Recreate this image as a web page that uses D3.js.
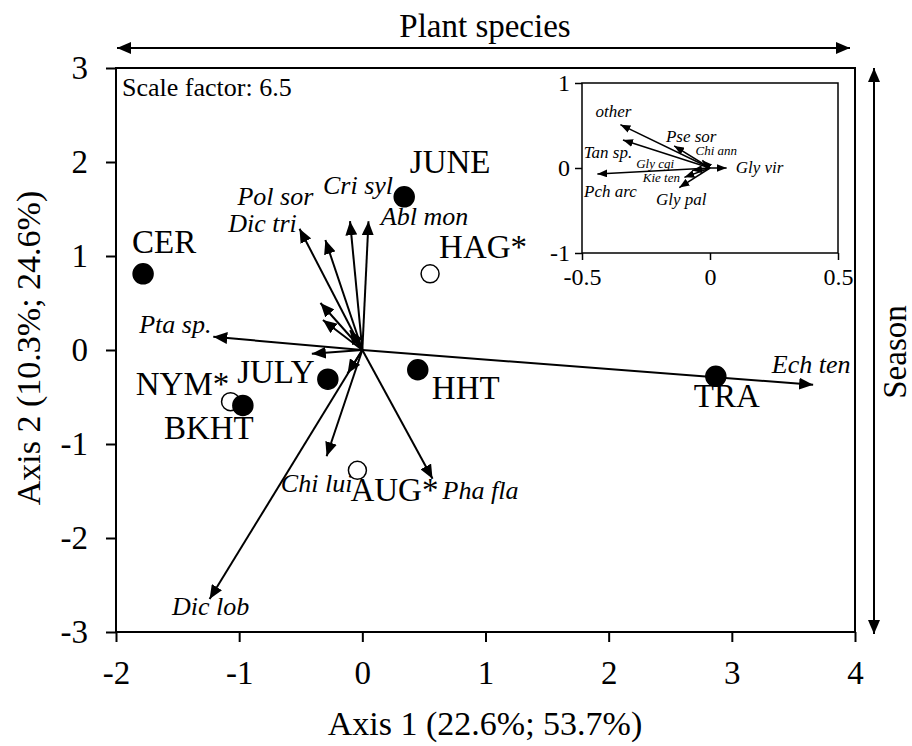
<!DOCTYPE html>
<html>
<head>
<meta charset="utf-8">
<script src="https://cdn.jsdelivr.net/npm/d3@7"></script>
<style>
body { margin: 0; background: #fff; }
svg text { font-family: "Liberation Serif", "Times New Roman", serif; fill: #000; }
</style>
</head>
<body>
<svg id="chart" width="912" height="746"></svg>
<script>
// sites / months (sample scores)
var siteNames = ["JUNE", "HAG*", "CER", "JULY", "HHT", "NYM*", "BKHT", "TRA", "AUG*"];
var siteX = [0.34, 0.55, -1.78, -0.28, 0.45, -1.07, -0.97, 2.87, -0.04];
var siteY = [1.63, 0.81, 0.81, -0.31, -0.21, -0.55, -0.59, -0.28, -1.28];

// plant species vectors (main plot), unlabeled ones have ""
var spNames = ["Ech ten", "Pta sp.", "Dic lob", "Chi lui", "Pha fla", "Dic tri", "Pol sor", "Cri syl", "Abl mon", "", "", "", "", ""];
var spX = [3.66, -1.21, -1.24, -0.29, 0.57, -0.51, -0.30, -0.10, 0.05, -0.34, -0.32, -0.41, -0.12, -0.10];
var spY = [-0.37, 0.14, -2.65, -1.13, -1.37, 1.29, 1.17, 1.37, 1.37, 0.50, 0.32, -0.04, -0.25, 0.21];

// inset: species with short vectors
var inNames = ["other", "Tan sp.", "Pse sor", "Chi ann", "Gly vir", "Pch arc", "Gly cgi", "Kie ten", "Gly pal"];
var inX = [-0.35, -0.34, -0.14, -0.03, 0.065, -0.44, -0.07, -0.10, -0.12];
var inY = [0.51, 0.33, 0.26, 0.09, 0.0, -0.07, -0.03, -0.11, -0.23];

var xTicks = [-2, -1, 0, 1, 2, 3, 4];
var yTicks = [-3, -2, -1, 0, 1, 2, 3];
var inXTicks = [-0.5, 0, 0.5];
var inYTicks = [-1, 0, 1];

// label nudges in px from the mark (middle anchored)
var siteNudge = {"JUNE": [46, -24], "HAG*": [53, -16], "CER": [21, -21], "JULY": [-52, 4], "HHT": [48, 29],
  "NYM*": [-48, -7], "BKHT": [-34, 34], "TRA": [11, 31], "AUG*": [37, 31]};
var spNudge = {"Ech ten": [-2, -12], "Pta sp.": [-38, -4], "Dic lob": [1, 16], "Chi lui": [-10, 36],
  "Pha fla": [48, 20], "Dic tri": [-37, 3], "Pol sor": [-50, -35], "Cri syl": [8, -27], "Abl mon": [56, 4]};
var inNudge = {"other": [-7, -8], "Tan sp.": [-15, 18], "Pse sor": [17, -4], "Chi ann": [14, -5], "Gly vir": [33, 5],
  "Pch arc": [13, 23], "Gly cgi": [-37, -3], "Kie ten": [-23, 5], "Gly pal": [2, 17]};
var smallInset = ["Chi ann", "Gly cgi", "Kie ten"];

var svg = d3.select('#chart');

var x = d3.scaleLinear().domain([-2, 4]).range([116, 855]);
var y = d3.scaleLinear().domain([-3, 3]).range([632, 68]);

var defs = svg.append('defs');
function marker(id, len, wid) {
	defs.append('marker')
		.attr('id', id)
		.attr('markerUnits', 'userSpaceOnUse')
		.attr('viewBox', '0 0 ' + len + ' ' + wid)
		.attr('refX', len).attr('refY', wid / 2)
		.attr('markerWidth', len).attr('markerHeight', wid)
		.attr('orient', 'auto-start-reverse')
		.append('path')
			.attr('d', 'M0,0L' + len + ',' + (wid / 2) + 'L0,' + wid + 'Z')
			.attr('fill', '#000');
}
marker('head', 14, 12);
marker('headS', 10, 8);

// frame
svg.append('rect')
	.attr('x', x(-2)).attr('y', y(3))
	.attr('width', x(4) - x(-2)).attr('height', y(-3) - y(3))
	.attr('fill', 'none').attr('stroke', '#000').attr('stroke-width', 2);

var yAxis = svg.append('g')
	.attr('transform', 'translate(' + x(-2) + ',0)')
	.call(d3.axisLeft(y).tickValues(yTicks).tickSize(10).tickPadding(18).tickFormat(d3.format('d')));
var xAxis = svg.append('g')
	.attr('transform', 'translate(0,' + y(-3) + ')')
	.call(d3.axisBottom(x).tickValues(xTicks).tickSize(10).tickPadding(19).tickFormat(d3.format('d')));
[xAxis, yAxis].forEach(function (a) {
	a.select('.domain').remove();
	a.selectAll('line').attr('stroke-width', 2);
	a.selectAll('text').style('font-size', '33px').attr('font-family', null);
});
// plain hyphen minus like the original
svg.selectAll('.tick text').text(function (d) { return String(d); });

// species vectors
var sp = spNames.map(function (n, i) { return {name: n, x: spX[i], y: spY[i]}; });
svg.append('g').selectAll('line').data(sp).enter().append('line')
	.attr('x1', x(0)).attr('y1', y(0))
	.attr('x2', function (d) { return x(d.x); })
	.attr('y2', function (d) { return y(d.y); })
	.attr('stroke', '#000').attr('stroke-width', 2)
	.attr('marker-end', 'url(#head)');
svg.append('g').selectAll('text').data(sp.filter(function (d) { return d.name; })).enter().append('text')
	.attr('x', function (d) { return x(d.x) + spNudge[d.name][0]; })
	.attr('y', function (d) { return y(d.y) + spNudge[d.name][1]; })
	.attr('text-anchor', 'middle')
	.style('font-size', '26px').style('font-style', 'italic')
	.text(function (d) { return d.name; });

// sites: names with * are open circles
var sites = siteNames.map(function (n, i) { return {name: n, x: siteX[i], y: siteY[i], open: n.indexOf('*') >= 0}; });
sites.sort(function (a, b) { return (b.open ? 1 : 0) - (a.open ? 1 : 0); });
svg.append('g').selectAll('circle').data(sites).enter().append('circle')
	.attr('cx', function (d) { return x(d.x); })
	.attr('cy', function (d) { return y(d.y); })
	.attr('r', function (d) { return d.open ? 9 : 10; })
	.attr('fill', function (d) { return d.open ? '#fff' : '#000'; })
	.attr('stroke', '#000').attr('stroke-width', 1.5);
svg.append('g').selectAll('text').data(sites).enter().append('text')
	.attr('x', function (d) { return x(d.x) + siteNudge[d.name][0]; })
	.attr('y', function (d) { return y(d.y) + siteNudge[d.name][1]; })
	.attr('text-anchor', 'middle')
	.style('font-size', '33px')
	.text(function (d) { return d.name; });

svg.append('text').attr('x', 122).attr('y', 96).style('font-size', '26px').text('Scale factor: 6.5');

// inset
var ix = d3.scaleLinear().domain([-0.5, 0.5]).range([582, 838]);
var iy = d3.scaleLinear().domain([-1, 1]).range([253, 83]);
svg.append('rect')
	.attr('x', ix(-0.5)).attr('y', iy(1))
	.attr('width', ix(0.5) - ix(-0.5)).attr('height', iy(-1) - iy(1))
	.attr('fill', '#fff').attr('stroke', '#000').attr('stroke-width', 1.5);
var iyAxis = svg.append('g')
	.attr('transform', 'translate(' + ix(-0.5) + ',0)')
	.call(d3.axisLeft(iy).tickValues(inYTicks).tickSize(7).tickPadding(5).tickFormat(function (d) { return String(d); }));
var ixAxis = svg.append('g')
	.attr('transform', 'translate(0,' + iy(-1) + ')')
	.call(d3.axisBottom(ix).tickValues(inXTicks).tickSize(7).tickPadding(8).tickFormat(function (d) { return String(d); }));
[ixAxis, iyAxis].forEach(function (a) {
	a.select('.domain').remove();
	a.selectAll('line').attr('stroke-width', 1.5);
	a.selectAll('text').style('font-size', '24px').attr('font-family', null);
});

var ins = inNames.map(function (n, i) { return {name: n, x: inX[i], y: inY[i]}; });
svg.append('g').selectAll('line').data(ins).enter().append('line')
	.attr('x1', ix(0)).attr('y1', iy(0))
	.attr('x2', function (d) { return ix(d.x); })
	.attr('y2', function (d) { return iy(d.y); })
	.attr('stroke', '#000').attr('stroke-width', 1.5)
	.attr('marker-end', 'url(#headS)');
svg.append('g').selectAll('text').data(ins).enter().append('text')
	.attr('x', function (d) { return ix(d.x) + inNudge[d.name][0]; })
	.attr('y', function (d) { return iy(d.y) + inNudge[d.name][1]; })
	.attr('text-anchor', 'middle')
	.style('font-size', function (d) { return smallInset.indexOf(d.name) >= 0 ? '13px' : '17px'; })
	.style('font-style', 'italic')
	.text(function (d) { return d.name; });

// side double arrows
svg.append('line')
	.attr('x1', 117).attr('x2', 850).attr('y1', 48).attr('y2', 48)
	.attr('stroke', '#000').attr('stroke-width', 2)
	.attr('marker-start', 'url(#head)').attr('marker-end', 'url(#head)');
svg.append('text').attr('x', 485).attr('y', 37).attr('text-anchor', 'middle')
	.style('font-size', '33px').text('Plant species');

svg.append('line')
	.attr('x1', 874).attr('x2', 874).attr('y1', 68).attr('y2', 634)
	.attr('stroke', '#000').attr('stroke-width', 2)
	.attr('marker-start', 'url(#head)').attr('marker-end', 'url(#head)');
svg.append('text').attr('transform', 'translate(906,352) rotate(-90)').attr('text-anchor', 'middle')
	.style('font-size', '33px').text('Season');

// axis titles
svg.append('text').attr('x', 485).attr('y', 735).attr('text-anchor', 'middle')
	.style('font-size', '34px').text('Axis 1 (22.6%; 53.7%)');
svg.append('text').attr('transform', 'translate(40,348) rotate(-90)').attr('text-anchor', 'middle')
	.style('font-size', '34px').text('Axis 2 (10.3%; 24.6%)');
</script>
</body>
</html>
